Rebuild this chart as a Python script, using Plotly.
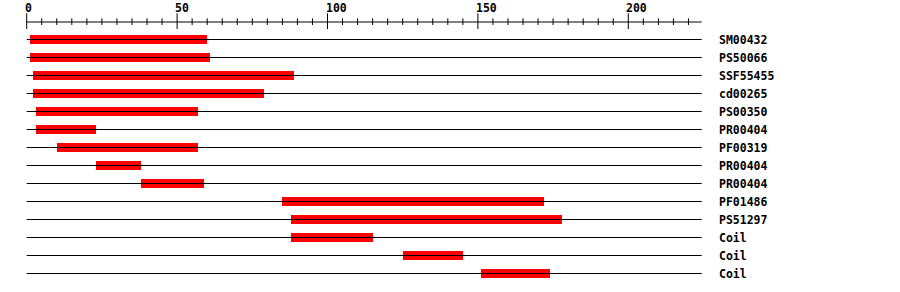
import plotly.graph_objects as go

# ---- data ----
labels = ["SM00432", "PS50066", "SSF55455", "cd00265", "PS00350", "PR00404", "PF00319",
          "PR00404", "PR00404", "PF01486", "PS51297", "Coil", "Coil", "Coil"]
starts = [1, 1, 2, 2, 3, 3, 10, 23, 38, 85, 88, 88, 125, 151]
ends = [60, 61, 89, 79, 57, 23, 57, 38, 59, 172, 178, 115, 145, 174]
seq_len = 224.4
major_ticks = [0, 50, 100, 150, 200]
minor_ticks = list(range(0, 225, 5))

# ---- pixel mapping ----
X0 = 26.7
PX = 3.008
xr = [-X0 / PX, (900 - X0) / PX]
ROW0 = 39.5
ROWH = 18.0
def py(p):
    return (p - ROW0) / ROWH
yr = [py(292), py(0)]

font_main = dict(family="DejaVu Sans Mono", size=11.5, color="black", weight="bold")

fig = go.Figure()

# row lines
lx, ly = [], []
for i in range(len(labels)):
    lx += [0, seq_len, None]
    ly += [i, i, None]
fig.add_trace(go.Scatter(x=lx, y=ly, mode="lines", line=dict(color="black", width=1),
                         hoverinfo="skip", showlegend=False))

# ruler
axis_y = py(22)
rx, ry = [0, seq_len, None], [axis_y, axis_y, None]
for t in minor_ticks:
    if t in major_ticks:
        rx += [t, t, None]
        ry += [py(13.3), py(29), None]
    else:
        rx += [t, t, None]
        ry += [py(18.3), py(25), None]
fig.add_trace(go.Scatter(x=rx, y=ry, mode="lines", line=dict(color="black", width=1),
                         hoverinfo="skip", showlegend=False))

# bars
fig.add_trace(go.Bar(
    y=list(range(len(labels))),
    x=[e - s for s, e in zip(starts, ends)],
    base=starts,
    orientation="h",
    width=9 / ROWH,
    marker=dict(color="#ff0000", line=dict(width=0)),
    showlegend=False,
    hoverinfo="skip",
))

annotations = []
for t in major_ticks:
    annotations.append(dict(x=t, y=py(7.5), xref="x", yref="y", text=str(t), showarrow=False,
                            xanchor="left", yanchor="middle", xshift=-2, borderpad=0, borderwidth=0,
                            font=font_main))
for i, lab in enumerate(labels):
    annotations.append(dict(x=(720 - X0) / PX, y=i, xref="x", yref="y", text=lab, showarrow=False,
                            xanchor="left", yanchor="middle", xshift=-1, borderpad=0, borderwidth=0,
                            font=font_main))

fig.update_layout(
    width=900, height=292,
    margin=dict(l=0, r=0, t=0, b=0),
    paper_bgcolor="white", plot_bgcolor="white",
    xaxis=dict(range=xr, visible=False, fixedrange=True),
    yaxis=dict(range=yr, visible=False, fixedrange=True),
    annotations=annotations,
    bargap=0,
)

fig.write_html("out.html")
